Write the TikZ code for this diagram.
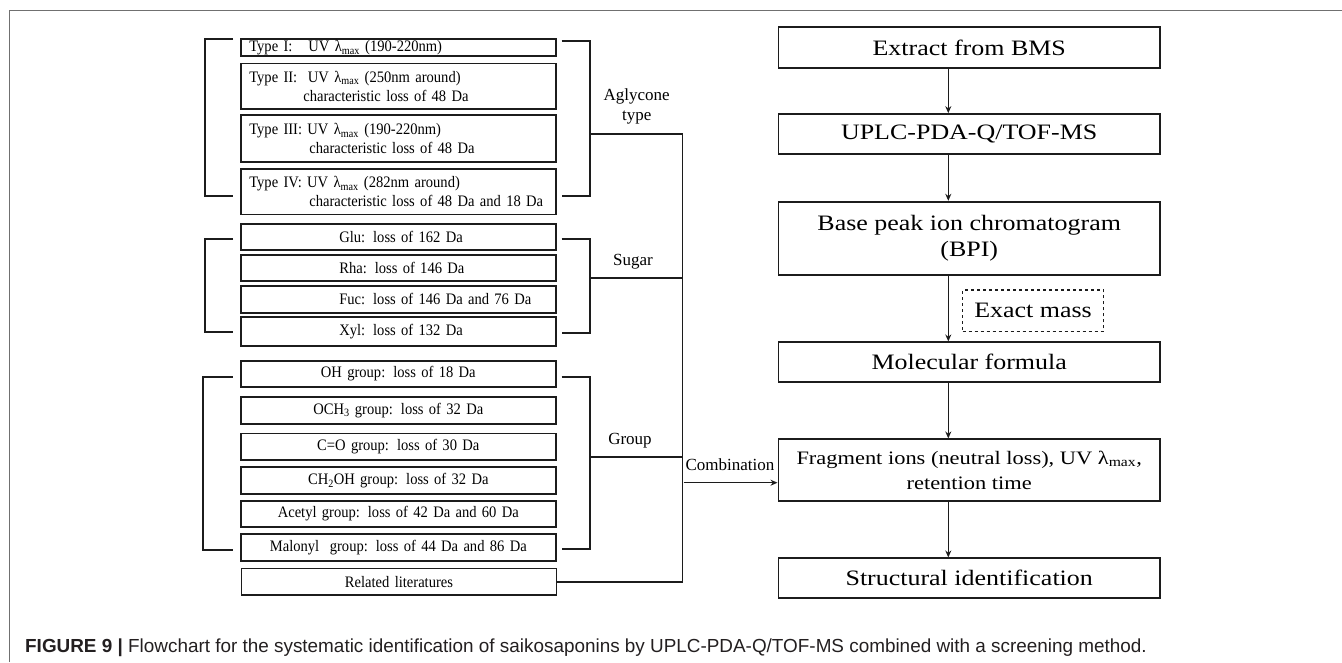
\documentclass[tikz,border=0pt]{standalone}
\usepackage{fontspec}
\setmainfont{Liberation Serif}
\newfontfamily\rfont[FakeStretch=1.18]{Liberation Serif}
\newfontfamily\lfont[FakeStretch=0.91]{Liberation Serif}
\newfontfamily\capfont{Liberation Sans}
\usetikzlibrary{arrows.meta,calc}
\definecolor{ink}{HTML}{1C1C1C}
\definecolor{framec}{HTML}{707070}
\definecolor{capc}{HTML}{231F20}
\begin{document}
\begin{tikzpicture}[x=1pt,y=-1pt,
  lbox/.style={draw=ink,line width=1.7pt,text width=298pt,inner xsep=8.6pt,inner ysep=0pt,
    align=left,font=\lfont\fontsize{16}{19}\selectfont},
  cbox/.style={lbox,align=center},
  rbox/.style={draw=ink,line width=1.7pt,minimum width=381.7pt,inner sep=0pt,align=center,
    font=\rfont\fontsize{22}{25.5}\selectfont},
  lab/.style={inner sep=0pt,align=center,font=\fontsize{17}{20}\selectfont},
  br/.style={draw=ink,line width=1.7pt},
  arr/.style={draw=ink,line width=1.3pt,-{Stealth[length=7pt,width=6pt]}}
]
\useasboundingbox (0,0) rectangle (1342,662);
% frame
\draw[framec,line width=1.4pt] (9.3,662) -- (9.3,10.5) -- (1342,10.5);

% aglycone type boxes
\node[lbox,minimum height=17pt] (t1) at (398.3,47.5) {\mbox{Type I:\ \ \ UV λ\textsubscript{max} (190-220nm)}};
\node[lbox,minimum height=45.7pt] (t2) at (398.3,86.2) {\mbox{Type II:\ \ UV λ\textsubscript{max} (250nm around)}\\\mbox{\hspace*{54pt}characteristic loss of 48 Da}};
\node[lbox,minimum height=46.7pt] (t3) at (398.3,138.4) {\mbox{Type III: UV λ\textsubscript{max} (190-220nm)}\\\mbox{\hspace*{60pt}characteristic loss of 48 Da}};
\node[lbox,minimum height=45.3pt] (t4) at (398.3,191.7) {\mbox{Type IV: UV λ\textsubscript{max} (282nm around)}\\\mbox{\hspace*{60pt}characteristic loss of 48 Da and 18 Da}};

% sugar boxes
\node[lbox,minimum height=26pt] (s1) at (398.3,237) {\hspace*{90pt}Glu: loss of 162 Da};
\node[lbox,minimum height=26pt] (s2) at (398.3,268) {\hspace*{90pt}Rha: loss of 146 Da};
\node[lbox,minimum height=26.7pt] (s3) at (398.3,299.3) {\hspace*{90pt}Fuc: loss of 146 Da and 76 Da};
\node[lbox,minimum height=28.4pt] (s4) at (398.3,331.5) {\hspace*{90pt}Xyl: loss of 132 Da};

% group boxes
\node[cbox,minimum height=26pt] (g1) at (398.3,373.7) {OH group: loss of 18 Da};
\node[cbox,minimum height=27.3pt] (g2) at (398.3,410.3) {OCH\textsubscript{3} group: loss of 32 Da};
\node[cbox,minimum height=26.7pt] (g3) at (398.3,446.7) {C=O group: loss of 30 Da};
\node[cbox,minimum height=27pt] (g4) at (398.3,480.8) {CH\textsubscript{2}OH group: loss of 32 Da};
\node[cbox,minimum height=26.6pt] (g5) at (398.3,514) {Acetyl group: loss of 42 Da and 60 Da};
\node[cbox,minimum height=26.7pt] (g6) at (398.3,547.3) {Malonyl\ \ group: loss of 44 Da and 86 Da};
\node[cbox,minimum height=26.7pt] (rel) at (399,581.7) {Related literatures};

% labels
\node[lab] (agl) at (636.7,106.7) {Aglycone\\type};
\node[lab] (sug) at (633,261.7) {Sugar};
\node[lab] (grp) at (630,441) {Group};
\node[lab] (comb) at (730,464.3) {Combination};

% brackets
\coordinate (bus) at (682.5,0);
\draw[br] (233,39) -- (205,39) -- (205,195.7) -- (233,195.7);
\draw[br] (561.7,41) -- (590,41) -- (590,195.7) -- (561.7,195.7);
\draw[br] (590,134.3) -- (682.5,134.3) -- (682.5,581.7);
\draw[br] (233,239.3) -- (205,239.3) -- (205,331.7) -- (233,331.7);
\draw[br] (561.7,239.3) -- (590,239.3) -- (590,332.7) -- (561.7,332.7);
\draw[br] (590,278.3) -- (682.5,278.3);
\draw[br] (232.7,376.7) -- (203.3,376.7) -- (203.3,550) -- (232.7,550);
\draw[br] (561.7,377.3) -- (590,377.3) -- (590,549) -- (561.7,549);
\draw[br] (590,456.7) -- (682.5,456.7);
\draw[br] (rel.east) -- (rel.east -| bus);

% right flow
\node[rbox,minimum height=41pt] (ext) at (969.2,47.8) {Extract from BMS};
\node[rbox,minimum height=40pt] (uplc) at (969.2,134) {UPLC-PDA-Q/TOF-MS};
\node[rbox,minimum height=73.3pt] (bpi) at (969.2,238.3) {Base peak ion chromatogram\\(BPI)};
\node[rbox,dashed,line width=1.2pt,minimum width=140.6pt,minimum height=41.7pt] (exact) at (1033,310.8) {Exact mass};
\node[rbox,minimum height=40pt] (mol) at (969.2,362.3) {Molecular formula};
\node[rbox,minimum height=61.4pt,font=\rfont\fontsize{19}{25}\selectfont] (frag) at (969.2,470) {Fragment ions (neutral loss), UV λ\textsubscript{max},\\retention time};
\node[rbox,minimum height=40pt] (str) at (969.2,578.3) {Structural identification};

\coordinate (ax) at (948.3,0);
\draw[arr] (ax |- ext.south) -- (ax |- uplc.north);
\draw[arr] (ax |- uplc.south) -- (ax |- bpi.north);
\draw[arr] (ax |- bpi.south) -- (ax |- mol.north);
\draw[arr] (ax |- mol.south) -- (ax |- frag.north);
\draw[arr] (ax |- frag.south) -- (ax |- str.north);
\coordinate (cst) at (683.5,482.7);
\draw[arr] (cst) -- (cst -| frag.west);

% caption
\node[anchor=base west,inner sep=0pt,text=capc,font=\capfont\fontsize{18.9}{22}\selectfont] (cap) at (25,652.7)
 {\textbf{FIGURE 9 |} Flowchart for the systematic identification of saikosaponins by UPLC-PDA-Q/TOF-MS combined with a screening method.};
\end{tikzpicture}
\end{document}
